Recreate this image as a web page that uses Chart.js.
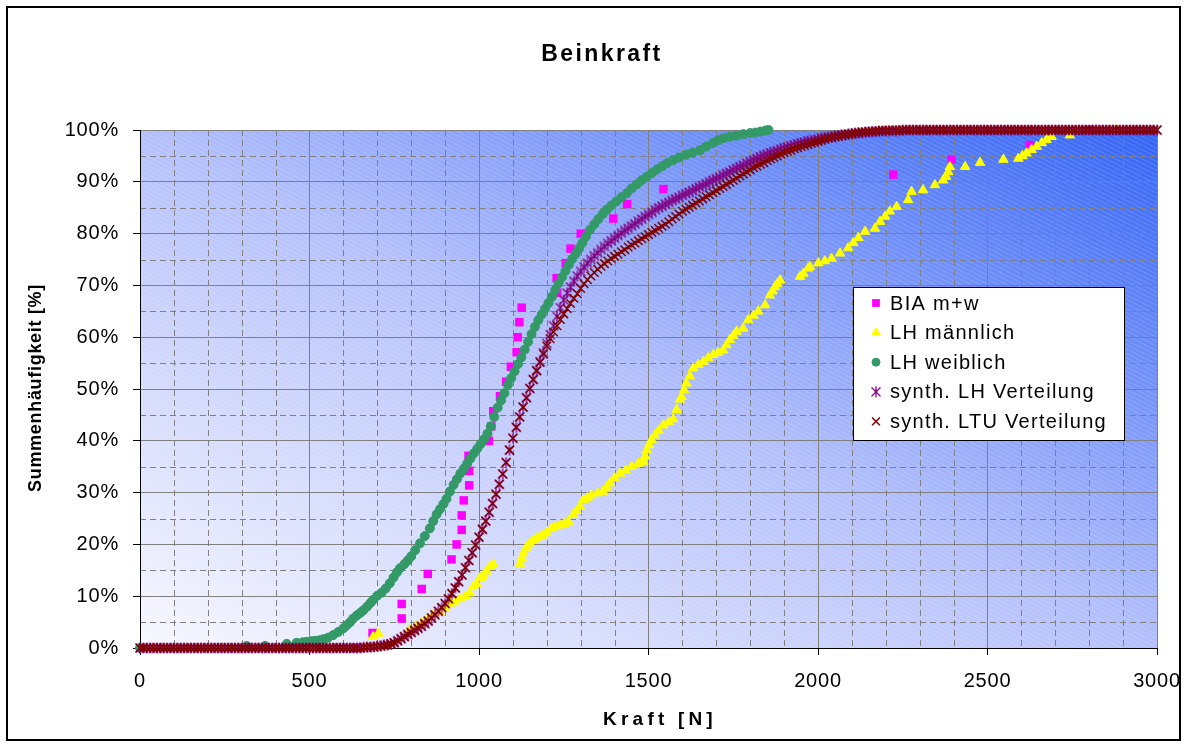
<!DOCTYPE html>
<html>
<head>
<meta charset="utf-8">
<title>Beinkraft</title>
<script src="https://cdn.jsdelivr.net/npm/chart.js@4.4.1/dist/chart.umd.min.js"></script>
<style>
    body { margin: 0; background: #fff; }
    #wrap { position: relative; width: 1187px; height: 747px; }
</style>
</head>
<body>
<div id="wrap"><canvas id="chart" width="1187" height="747"></canvas></div>
<script>
var titel = "Beinkraft";
var xTitel = "Kraft [N]";
var yTitel = "Summenhäufigkeit [%]";
var serienNamen = ["BIA m+w", "LH männlich", "LH weiblich", "synth. LH Verteilung", "synth. LTU Verteilung"];

// minor (dashed) grid positions
var nebenX = [100, 200, 300, 400, 600, 700, 800, 900, 1100, 1200, 1300, 1400, 1600, 1700, 1800, 1900,
    2100, 2200, 2300, 2400, 2600, 2700, 2800, 2900];
var nebenY = [5, 15, 25, 35, 45, 55, 65, 75, 85, 95];

// [Kraft N, Summenhaeufigkeit %]
var biaMW = [
    [634, 0], [686, 2.9], [772, 5.7], [772, 8.5], [831, 11.4], [849, 14.3], [919, 17.1], [934, 20.0],
    [949, 22.8], [949, 25.6], [955, 28.5], [971, 31.4], [971, 34.2], [969, 37.1], [1029, 40.0], [1036, 42.8],
    [1042, 45.7], [1062, 48.6], [1080, 51.4], [1094, 54.3], [1111, 57.1], [1114, 60.0], [1119, 62.9], [1126, 65.7],
    [1231, 68.6], [1229, 71.4], [1256, 74.3], [1270, 77.1], [1300, 80.0], [1396, 82.9], [1437, 85.7], [1544, 88.6],
    [2222, 91.4], [2394, 94.3], [2625, 97.1], [2800, 100]
];

var lhMaennlich = [
    [511, 0], [669, 0.3], [688, 2.2], [703, 2.8], [796, 3.5], [815, 4.2], [831, 4.8], [848, 5.6], [865, 6.4],
    [885, 6.9], [900, 7.8], [914, 8.6], [930, 9.0], [944, 9.5], [960, 10.0], [973, 10.6], [983, 11.8], [993, 12.4],
    [1003, 13.5], [1012, 13.9], [1022, 14.8], [1032, 15.7], [1042, 16.2], [1121, 16.3], [1126, 17.3], [1131, 18.3],
    [1140, 19.4], [1150, 20.2], [1160, 20.8], [1170, 21.2], [1180, 21.5], [1190, 21.8], [1200, 22.3], [1214, 23.1],
    [1226, 23.4], [1239, 23.7], [1252, 24.0], [1264, 24.4], [1278, 25.7], [1288, 26.5], [1298, 27.3], [1308, 28.6],
    [1320, 29.0], [1332, 29.5], [1350, 29.9], [1366, 30.2], [1376, 31.0], [1386, 31.8], [1400, 32.8], [1416, 33.7],
    [1433, 34.3], [1450, 35.0], [1470, 35.6], [1485, 36.0], [1490, 37.0], [1495, 38.2], [1502, 39.2], [1509, 40.2],
    [1519, 41.1], [1530, 42.0], [1544, 43.0], [1560, 43.6], [1573, 44.2], [1583, 46.0], [1593, 48.0], [1598, 48.5],
    [1605, 49.8], [1612, 51.1], [1622, 52.5], [1632, 54.0], [1647, 54.7], [1662, 55.3], [1676, 56.0], [1691, 56.6],
    [1705, 57.0], [1720, 57.5], [1730, 58.5], [1740, 59.5], [1750, 60.3], [1760, 61.1], [1779, 61.7], [1794, 63.3],
    [1810, 64.2], [1824, 65.0], [1844, 66.2], [1858, 68.1], [1866, 68.9], [1873, 69.7], [1880, 70.3], [1888, 71.0],
    [1947, 71.7], [1957, 72.3], [1971, 73.3], [1976, 73.6], [2001, 74.3], [2020, 74.7], [2040, 75.2], [2065, 76.2],
    [2089, 77.2], [2104, 78.2], [2119, 79.2], [2139, 80.4], [2168, 81.0], [2183, 82.3], [2198, 83.3], [2212, 84.3],
    [2232, 85.2], [2266, 86.5], [2276, 88.1], [2310, 88.4], [2345, 89.4], [2369, 90.3], [2378, 91.0], [2384, 91.9],
    [2389, 92.9], [2434, 92.9], [2478, 93.7], [2547, 94.3], [2591, 94.5], [2603, 95.0], [2615, 95.5], [2630, 96.2],
    [2645, 96.8], [2660, 97.5], [2674, 98.1], [2689, 98.7], [2743, 99.0], [2880, 100]
];

var lhWeiblich = [
    [0, 0], [315, 0.4], [369, 0.4], [433, 0.8], [462, 1.0], [480, 1.1], [492, 1.2], [505, 1.3], [516, 1.4],
    [530, 1.5], [541, 1.7], [555, 2.0], [570, 2.5], [585, 3.1], [600, 3.8], [610, 4.4], [620, 5.0], [629, 5.7],
    [640, 6.3], [650, 6.8], [659, 7.3], [670, 8.0], [680, 8.7], [688, 9.3], [700, 10.1], [713, 10.7], [725, 11.5],
    [737, 12.5], [748, 13.6], [758, 14.6], [767, 15.4], [780, 16.2], [790, 16.9], [800, 17.7], [812, 18.9],
    [826, 20.2], [840, 21.6], [855, 23.1], [865, 24.5], [875, 25.8], [885, 26.8], [895, 27.8], [904, 28.8],
    [914, 30.2], [925, 31.5], [935, 32.6], [945, 33.7], [955, 34.6], [965, 35.6], [975, 36.6], [985, 37.6],
    [995, 38.5], [1005, 39.4], [1015, 40.3], [1025, 41.4], [1035, 42.8], [1045, 44.6], [1055, 46.4], [1065, 47.8],
    [1075, 49.2], [1085, 50.8], [1095, 52.1], [1105, 53.4], [1115, 54.8], [1125, 56.1], [1135, 57.6], [1145, 59.1],
    [1155, 60.6], [1165, 62.0], [1175, 63.3], [1185, 64.4], [1195, 65.5], [1205, 66.6], [1215, 67.8], [1225, 69.1],
    [1235, 70.4], [1245, 71.6], [1255, 72.8], [1265, 74.0], [1275, 75.1], [1285, 76.1], [1295, 77.1], [1305, 78.2],
    [1315, 79.4], [1327, 80.7], [1340, 81.8], [1352, 82.8], [1365, 83.8], [1377, 84.6], [1390, 85.4], [1405, 86.2],
    [1420, 87.0], [1436, 87.8], [1450, 88.7], [1465, 89.5], [1480, 90.3], [1495, 91.0], [1510, 91.7], [1525, 92.4],
    [1540, 93.0], [1555, 93.6], [1573, 94.2], [1590, 94.7], [1610, 95.2], [1630, 95.6], [1652, 96.1], [1670, 96.8],
    [1690, 97.5], [1705, 98.0], [1721, 98.4], [1740, 98.7], [1760, 98.9], [1780, 99.2], [1800, 99.4], [1815, 99.5],
    [1830, 99.7], [1845, 99.9], [1854, 100]
];

// synthetic distributions, Kraft in 10 N steps
var kraftSynth = [
    0, 10, 20, 30, 40, 50, 60, 70, 80, 90,
    100, 110, 120, 130, 140, 150, 160, 170, 180, 190,
    200, 210, 220, 230, 240, 250, 260, 270, 280, 290,
    300, 310, 320, 330, 340, 350, 360, 370, 380, 390,
    400, 410, 420, 430, 440, 450, 460, 470, 480, 490,
    500, 510, 520, 530, 540, 550, 560, 570, 580, 590,
    600, 610, 620, 630, 640, 650, 660, 670, 680, 690,
    700, 710, 720, 730, 740, 750, 760, 770, 780, 790,
    800, 810, 820, 830, 840, 850, 860, 870, 880, 890,
    900, 910, 920, 930, 940, 950, 960, 970, 980, 990,
    1000, 1010, 1020, 1030, 1040, 1050, 1060, 1070, 1080, 1090,
    1100, 1110, 1120, 1130, 1140, 1150, 1160, 1170, 1180, 1190,
    1200, 1210, 1220, 1230, 1240, 1250, 1260, 1270, 1280, 1290,
    1300, 1310, 1320, 1330, 1340, 1350, 1360, 1370, 1380, 1390,
    1400, 1410, 1420, 1430, 1440, 1450, 1460, 1470, 1480, 1490,
    1500, 1510, 1520, 1530, 1540, 1550, 1560, 1570, 1580, 1590,
    1600, 1610, 1620, 1630, 1640, 1650, 1660, 1670, 1680, 1690,
    1700, 1710, 1720, 1730, 1740, 1750, 1760, 1770, 1780, 1790,
    1800, 1810, 1820, 1830, 1840, 1850, 1860, 1870, 1880, 1890,
    1900, 1910, 1920, 1930, 1940, 1950, 1960, 1970, 1980, 1990,
    2000, 2010, 2020, 2030, 2040, 2050, 2060, 2070, 2080, 2090,
    2100, 2110, 2120, 2130, 2140, 2150, 2160, 2170, 2180, 2190,
    2200, 2210, 2220, 2230, 2240, 2250, 2260, 2270, 2280, 2290,
    2300, 2310, 2320, 2330, 2340, 2350, 2360, 2370, 2380, 2390,
    2400, 2410, 2420, 2430, 2440, 2450, 2460, 2470, 2480, 2490,
    2500, 2510, 2520, 2530, 2540, 2550, 2560, 2570, 2580, 2590,
    2600, 2610, 2620, 2630, 2640, 2650, 2660, 2670, 2680, 2690,
    2700, 2710, 2720, 2730, 2740, 2750, 2760, 2770, 2780, 2790,
    2800, 2810, 2820, 2830, 2840, 2850, 2860, 2870, 2880, 2890,
    2900, 2910, 2920, 2930, 2940, 2950, 2960, 2970, 2980, 2990,
    3000
];

var synthLH = [
    0, 0, 0, 0, 0, 0, 0, 0, 0, 0,
    0, 0, 0, 0, 0, 0, 0, 0, 0, 0,
    0, 0, 0, 0, 0, 0, 0, 0, 0, 0,
    0, 0, 0, 0, 0, 0, 0, 0, 0, 0,
    0, 0, 0, 0, 0, 0, 0, 0, 0, 0,
    0, 0, 0, 0, 0, 0, 0, 0, 0, 0,
    0, 0, 0, 0, 0, 0, 0.1, 0.1, 0.2, 0.2,
    0.3, 0.4, 0.5, 0.6, 0.8, 1.0, 1.4, 1.8, 2.2, 2.6,
    3.0, 3.4, 3.8, 4.2, 4.7, 5.2, 5.8, 6.4, 7.1, 7.8,
    8.6, 9.5, 10.5, 11.6, 12.8, 14.1, 15.5, 16.9, 18.4, 19.9,
    21.4, 22.9, 24.5, 26.2, 27.9, 29.7, 31.6, 33.6, 35.8, 38.2,
    40.5, 42.6, 44.6, 46.5, 48.3, 50.1, 51.9, 53.6, 55.3, 57.0,
    58.8, 60.5, 62.2, 64.0, 65.7, 67.2, 68.5, 69.7, 70.8, 71.8,
    72.7, 73.5, 74.3, 75.0, 75.7, 76.3, 76.9, 77.5, 78.1, 78.6,
    79.1, 79.6, 80.1, 80.6, 81.0, 81.5, 81.9, 82.4, 82.8, 83.3,
    83.7, 84.1, 84.6, 85.0, 85.3, 85.7, 86.0, 86.4, 86.7, 87.0,
    87.4, 87.7, 88.0, 88.3, 88.7, 89.0, 89.3, 89.6, 90.0, 90.3,
    90.6, 90.9, 91.3, 91.6, 91.9, 92.3, 92.6, 92.9, 93.2, 93.6,
    93.9, 94.2, 94.5, 94.8, 95.1, 95.3, 95.6, 95.8, 96.0, 96.3,
    96.5, 96.7, 96.9, 97.1, 97.3, 97.5, 97.6, 97.8, 97.9, 98.1,
    98.2, 98.4, 98.5, 98.6, 98.7, 98.8, 98.9, 99.0, 99.1, 99.2,
    99.3, 99.4, 99.4, 99.5, 99.6, 99.6, 99.7, 99.7, 99.8, 99.8,
    99.8, 99.9, 99.9, 99.9, 99.9, 100, 100, 100, 100, 100,
    100, 100, 100, 100, 100, 100, 100, 100, 100, 100,
    100, 100, 100, 100, 100, 100, 100, 100, 100, 100,
    100, 100, 100, 100, 100, 100, 100, 100, 100, 100,
    100, 100, 100, 100, 100, 100, 100, 100, 100, 100,
    100, 100, 100, 100, 100, 100, 100, 100, 100, 100,
    100, 100, 100, 100, 100, 100, 100, 100, 100, 100,
    100, 100, 100, 100, 100, 100, 100, 100, 100, 100,
    100
];

var synthLTU = [
    0, 0, 0, 0, 0, 0, 0, 0, 0, 0,
    0, 0, 0, 0, 0, 0, 0, 0, 0, 0,
    0, 0, 0, 0, 0, 0, 0, 0, 0, 0,
    0, 0, 0, 0, 0, 0, 0, 0, 0, 0,
    0, 0, 0, 0, 0, 0, 0, 0, 0, 0,
    0, 0, 0, 0, 0, 0, 0, 0, 0, 0,
    0, 0, 0, 0, 0, 0, 0.1, 0.1, 0.2, 0.2,
    0.3, 0.4, 0.5, 0.6, 0.8, 1.0, 1.4, 1.8, 2.2, 2.6,
    3.0, 3.4, 3.8, 4.2, 4.7, 5.2, 5.8, 6.4, 7.1, 7.8,
    8.6, 9.5, 10.5, 11.6, 12.8, 14.1, 15.5, 16.9, 18.4, 19.9,
    21.4, 22.9, 24.5, 26.2, 27.9, 29.7, 31.6, 33.6, 35.8, 38.2,
    40.5, 42.6, 44.6, 46.5, 48.3, 50.1, 51.8, 53.5, 55.1, 56.7,
    58.3, 59.7, 61.0, 62.2, 63.4, 64.5, 65.5, 66.5, 67.5, 68.4,
    69.4, 70.3, 71.1, 71.8, 72.5, 73.1, 73.7, 74.2, 74.7, 75.2,
    75.6, 76.0, 76.5, 76.9, 77.4, 77.8, 78.2, 78.6, 79.0, 79.4,
    79.8, 80.2, 80.6, 81.0, 81.4, 81.8, 82.3, 82.8, 83.3, 83.8,
    84.3, 84.7, 85.1, 85.5, 85.9, 86.3, 86.7, 87.1, 87.5, 87.9,
    88.3, 88.7, 89.1, 89.5, 89.9, 90.3, 90.7, 91.1, 91.5, 91.9,
    92.3, 92.7, 93.0, 93.4, 93.7, 94.1, 94.4, 94.7, 95.0, 95.3,
    95.6, 95.9, 96.1, 96.4, 96.6, 96.8, 97.0, 97.2, 97.4, 97.6,
    97.8, 98.0, 98.2, 98.4, 98.5, 98.7, 98.8, 99.0, 99.1, 99.2,
    99.3, 99.4, 99.5, 99.6, 99.6, 99.7, 99.7, 99.8, 99.8, 99.9,
    99.9, 99.9, 99.9, 99.9, 99.9, 100, 100, 100, 100, 100,
    100, 100, 100, 100, 100, 100, 100, 100, 100, 100,
    100, 100, 100, 100, 100, 100, 100, 100, 100, 100,
    100, 100, 100, 100, 100, 100, 100, 100, 100, 100,
    100, 100, 100, 100, 100, 100, 100, 100, 100, 100,
    100, 100, 100, 100, 100, 100, 100, 100, 100, 100,
    100, 100, 100, 100, 100, 100, 100, 100, 100, 100,
    100, 100, 100, 100, 100, 100, 100, 100, 100, 100,
    100
];

var schrift = '"Liberation Sans", Arial, sans-serif';

function punkte(liste) {
    return liste.map(function(p) { return { x: p[0], y: p[1] }; });
}

function paare(xs, ys) {
    return xs.map(function(x, i) { return { x: x, y: ys[i] }; });
}

// Excel style asterisk: x with a vertical bar
function sternBild(farbe, groesse) {
    var c = document.createElement("canvas");
    c.width = groesse;
    c.height = groesse;
    var g = c.getContext("2d");
    var m = groesse / 2, r = groesse / 2 - 1.5;
    g.strokeStyle = farbe;
    g.lineWidth = 1.3;
    g.beginPath();
    g.moveTo(m - r, m - r); g.lineTo(m + r, m + r);
    g.moveTo(m + r, m - r); g.lineTo(m - r, m + r);
    g.moveTo(m, m - r - 1); g.lineTo(m, m + r + 1);
    g.stroke();
    return c;
}

var stern = sternBild("#800080", 12);

var hintergrund = {
    id: "hintergrund",
    beforeDraw: function(chart) {
        var ctx = chart.ctx, a = chart.chartArea;
        var sx = chart.scales.x, sy = chart.scales.y;
        var w = a.right - a.left, h = a.bottom - a.top;

        // diagonal gradient, corner to corner in box coordinates
        ctx.save();
        ctx.translate(a.left, a.top);
        ctx.scale(w, h);
        var g = ctx.createLinearGradient(0, 1, 1, 0);
        g.addColorStop(0, "#f8f8ff");
        g.addColorStop(0.5, "#b4c0fc");
        g.addColorStop(1, "#3364f6");
        ctx.fillStyle = g;
        ctx.fillRect(0, 0, 1, 1);
        ctx.restore();

        ctx.save();
        ctx.beginPath();
        ctx.rect(a.left, a.top, w, h);
        ctx.clip();
        ctx.strokeStyle = "rgba(255,255,255,0.16)";
        ctx.lineWidth = 1;
        ctx.beginPath();
        for (var k = -2 * h; k < w; k += 9) {
            ctx.moveTo(a.left + k + 0.5, a.top);
            ctx.lineTo(a.left + k + 2 * h + 0.5, a.bottom);
        }
        ctx.stroke();

        ctx.strokeStyle = "#808080";
        ctx.setLineDash([6, 4]);
        ctx.beginPath();
        nebenX.forEach(function(v) {
            var px = Math.round(sx.getPixelForValue(v)) + 0.5;
            ctx.moveTo(px, a.top);
            ctx.lineTo(px, a.bottom);
        });
        nebenY.forEach(function(v) {
            var py = Math.round(sy.getPixelForValue(v)) + 0.5;
            ctx.moveTo(a.left, py);
            ctx.lineTo(a.right, py);
        });
        ctx.stroke();
        ctx.restore();

        ctx.letterSpacing = "0.8px";
    }
};

function schreibe(ctx, text, x, y, font, abstand, drehung) {
    ctx.save();
    ctx.translate(x, y);
    if (drehung) ctx.rotate(drehung);
    ctx.font = font;
    ctx.letterSpacing = abstand + "px";
    ctx.fillStyle = "#000";
    ctx.textAlign = "center";
    ctx.textBaseline = "alphabetic";
    ctx.fillText(text, 0, 0);
    ctx.restore();
}

var beschriftung = {
    id: "beschriftung",
    afterDraw: function(chart) {
        var ctx = chart.ctx;
        ctx.letterSpacing = "0px";

        // outer frame
        ctx.save();
        ctx.strokeStyle = "#000";
        ctx.lineWidth = 2;
        ctx.strokeRect(7, 7, 1173, 733);
        ctx.restore();

        schreibe(ctx, titel, 602, 61, "bold 23px " + schrift, 2.4, 0);
        schreibe(ctx, xTitel, 660, 725, "bold 19px " + schrift, 4.2, 0);
        schreibe(ctx, yTitel, 41, 388, "bold 18px " + schrift, 0.7, -Math.PI / 2);

        // legend
        ctx.save();
        ctx.fillStyle = "#fff";
        ctx.fillRect(853, 287, 272, 154);
        ctx.strokeStyle = "#000";
        ctx.lineWidth = 1;
        ctx.strokeRect(853.5, 287.5, 271, 153);
        chart.data.datasets.forEach(function(ds, i) {
            var y = 303 + i * 29.6;
            ctx.fillStyle = ds.backgroundColor;
            ctx.strokeStyle = ds.borderColor;
            ctx.lineWidth = ds.borderWidth;
            Chart.helpers.drawPoint(ctx, {
                pointStyle: ds.pointStyle,
                radius: ds.legendRadius,
                rotation: 0,
                borderWidth: ds.borderWidth
            }, 876, y);
            ctx.font = "20px " + schrift;
            ctx.letterSpacing = "1.3px";
            ctx.fillStyle = "#000";
            ctx.textAlign = "left";
            ctx.textBaseline = "middle";
            ctx.fillText(ds.label, 890, y + 1);
        });
        ctx.restore();
        ctx.letterSpacing = "0px";
    }
};

new Chart(document.getElementById("chart"), {
    type: "scatter",
    data: {
        datasets: [{
            label: serienNamen[0],
            data: punkte(biaMW),
            pointStyle: "rect",
            pointRadius: 6,
            legendRadius: 5.5,
            backgroundColor: "#ff00ff",
            borderColor: "#ff00ff",
            borderWidth: 0,
            order: 5
        }, {
            label: serienNamen[1],
            data: punkte(lhMaennlich),
            pointStyle: "triangle",
            pointRadius: 5.5,
            legendRadius: 5,
            backgroundColor: "#ffff00",
            borderColor: "#ffff00",
            borderWidth: 1,
            order: 4
        }, {
            label: serienNamen[2],
            data: punkte(lhWeiblich),
            pointStyle: "circle",
            pointRadius: 4.5,
            legendRadius: 4,
            backgroundColor: "#339966",
            borderColor: "#339966",
            borderWidth: 1,
            order: 3
        }, {
            label: serienNamen[3],
            data: paare(kraftSynth, synthLH),
            pointStyle: stern,
            pointRadius: 5,
            legendRadius: 5,
            backgroundColor: "#800080",
            borderColor: "#800080",
            borderWidth: 1.3,
            order: 2
        }, {
            label: serienNamen[4],
            data: paare(kraftSynth, synthLTU),
            pointStyle: "crossRot",
            pointRadius: 6,
            legendRadius: 5.5,
            backgroundColor: "#800000",
            borderColor: "#800000",
            borderWidth: 1.5,
            order: 1
        }]
    },
    options: {
        responsive: false,
        animation: false,
        clip: false,
        layout: { padding: { left: 10, right: 30, top: 130, bottom: 10 } },
        plugins: {
            legend: { display: false },
            title: { display: false },
            tooltip: { enabled: false }
        },
        scales: {
            x: {
                type: "linear",
                position: "bottom",
                min: 0,
                max: 3000,
                ticks: {
                    stepSize: 500,
                    padding: 14,
                    maxRotation: 0,
                    color: "#000",
                    font: { family: schrift, size: 20 },
                    callback: function(v) { return String(v); }
                },
                grid: { color: "#808080", lineWidth: 1, tickLength: 7, tickColor: "#000" },
                border: { color: "#000", width: 1 },
                afterFit: function(s) {
                    s.height = 89;
                    s.paddingLeft = 0;
                    s.paddingRight = 0;
                }
            },
            y: {
                min: 0,
                max: 100,
                ticks: {
                    stepSize: 10,
                    padding: 14,
                    color: "#000",
                    font: { family: schrift, size: 20 },
                    callback: function(v) { return v + "%"; }
                },
                grid: { color: "#808080", lineWidth: 1, tickLength: 7, tickColor: "#000" },
                border: { color: "#000", width: 1 },
                afterFit: function(s) {
                    s.width = 130;
                    s.paddingTop = 0;
                    s.paddingBottom = 0;
                }
            }
        }
    },
    plugins: [hintergrund, beschriftung]
});
</script>
</body>
</html>
